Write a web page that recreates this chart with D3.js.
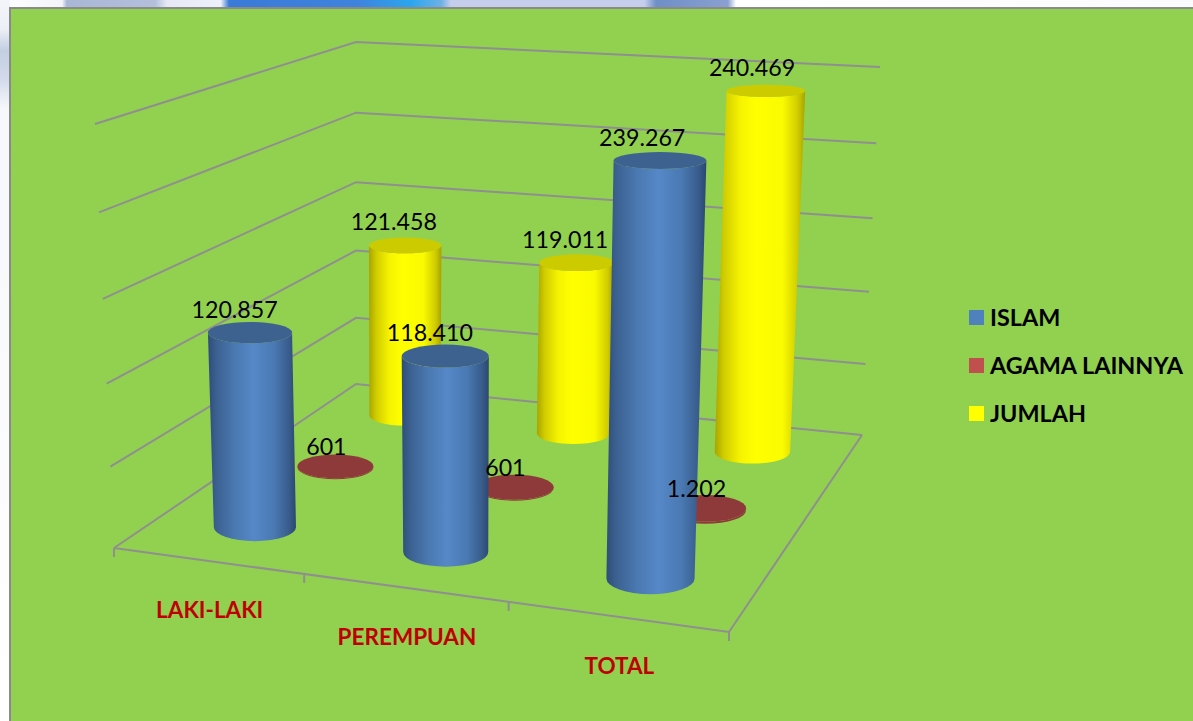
<!DOCTYPE html>
<html><head><meta charset="utf-8">
<style>html,body{margin:0;padding:0;background:#fff;overflow:hidden}svg{display:block}</style>
<script src="https://cdn.jsdelivr.net/npm/d3@7/dist/d3.min.js"></script>
</head><body><svg id="c" width="1193" height="721"></svg>
<script>
const categories = ["LAKI-LAKI", "PEREMPUAN", "TOTAL"];
const seriesNames = ["ISLAM", "AGAMA LAINNYA", "JUMLAH"];
const islam = [120857, 118410, 239267];
const agamaLainnya = [601, 601, 1202];
const jumlah = [121458, 119011, 240469];
const seriesValues = [islam, agamaLainnya, jumlah];
const axisTicks = [0, 50000, 100000, 150000, 200000, 250000];

const svg = d3.select("#c");
const defs = svg.append("defs");
const fmt = d3.formatLocale({decimal: ",", thousands: ".", grouping: [3], currency: ["", ""]}).format(",");

// Backdrop strip behind the chart panel
const topG = defs.append("linearGradient").attr("id", "topStrip");
[[0,"#ffffff"],[.052,"#f2f4fa"],[.056,"#a9b6d5"],[.13,"#b3bfdb"],[.14,"#e6e9f5"],[.185,"#eef0fa"],[.192,"#3a7ad8"],[.30,"#3f84dc"],
 [.345,"#2ba6ee"],[.37,"#6fb0e6"],[.378,"#c6ceed"],[.54,"#c6ceed"],[.55,"#6f8fc8"],[.61,"#8aa0d0"],[.617,"#ffffff"],[1,"#fbfbfd"]]
  .forEach(s => topG.append("stop").attr("offset", s[0]).attr("stop-color", s[1]));
const leftG = defs.append("linearGradient").attr("id", "leftStrip").attr("x2", 0).attr("y2", 1);
[[0,"#f4f5fa"],[.04,"#eceff6"],[.07,"#c3cfe2"],[.11,"#d3daea"],[.15,"#f6f7fb"],[1,"#ffffff"]]
  .forEach(s => leftG.append("stop").attr("offset", s[0]).attr("stop-color", s[1]));
svg.append("rect").attr("width", 1193).attr("height", 8).attr("fill", "url(#topStrip)");
svg.append("rect").attr("width", 10).attr("height", 721).attr("fill", "url(#leftStrip)");
svg.append("rect").attr("x", 10).attr("y", 8).attr("width", 1190).attr("height", 720)
   .attr("fill", "#92d050").attr("stroke", "#8a8a8a").attr("stroke-width", 2);

// Scales: category along the floor's width, series along its depth, value up the walls
const uBand = d3.scaleBand().domain(categories).range([0.004, 1.004]);
const vBand = d3.scaleBand().domain(seriesNames).range([0, 1]);
const tScale = d3.scaleLinear().domain([0, 250000]).range([0, 1]);

// Perspective projection of the chart box onto the page
function project(u, v, t) {
  const w = -0.10463*u + 0.24291*v + 1 - 0.05*t;
  const p = -23.75 + 5.95*v - 5.7*u*v;
  const q = -430.2 + 7*u + 3*v - 2*u*v;
  return [(538.73*u + 328.48*v + 114 + p*t) / w,
          (17.87*u - 70.72*v + 548 + q*t) / w, w];
}
const catU = c => uBand(c) + uBand.bandwidth()/2;
const serV = s => vBand(s) + vBand.bandwidth()/2;
const flatten = d3.scaleLinear().domain([0, 721]).range([0.115, 0.418]);
const line = d3.line();

// Walls' gridlines and floor
const grid = svg.append("g").attr("fill", "none").attr("stroke", "#8f8f8f").attr("stroke-width", 2);
axisTicks.forEach(tick => {
  const t = tScale(tick);
  grid.append("path").attr("d", line([project(0,0,t), project(0,1,t), project(1,1,t)]));
});
grid.append("path").attr("d", line([project(0,0,0), project(1,0,0), project(1,1,0)]));
d3.range(categories.length + 1).forEach(i => {
  const u = i / categories.length;
  const p = project(u, 0, 0);
  grid.append("path").attr("d", line([p, [p[0], p[1] + 9]]));
});

// Cylinder styles
const sideStops = {
  "ISLAM": [[0,"#2f4d78"],[.1,"#3c6191"],[.3,"#4a78b0"],[.52,"#5688c8"],[.75,"#4a79b3"],[.92,"#385c8c"],[1,"#2c4770"]],
  "AGAMA LAINNYA": [[0,"#8f3a3a"],[1,"#8f3a3a"]],
  "JUMLAH": [[0,"#a8a400"],[.1,"#d0cc00"],[.28,"#f6f300"],[.45,"#ffff00"],[.75,"#fbfb00"],[.92,"#cfcb00"],[1,"#a6a200"]]
};
const capFill = {"ISLAM": "#3d628f", "AGAMA LAINNYA": "#8f3a3a", "JUMLAH": "#cccb00"};
const legendFill = {"ISLAM": "#4f81bd", "AGAMA LAINNYA": "#c0504d", "JUMLAH": "#ffff00"};
const labelShift = {"ISLAM": [-13, -15], "AGAMA LAINNYA": [-9, -11], "JUMLAH": [-9, -15]};
const RADIUS = 42;

const labels = [];
// Paint from the back row to the front row
[2, 1, 0].forEach(j => {
  const name = seriesNames[j];
  const g = svg.append("g").attr("class", "series");
  categories.forEach((cat, i) => {
    const val = seriesValues[j][i];
    const u = catU(cat), v = serV(name);
    const b = project(u, v, 0), a = project(u, v, tScale(val));
    const rb = RADIUS / b[2], ra = RADIUS / a[2];
    const kb = rb * flatten(b[1]), ka = ra * flatten(a[1]);
    const id = "grad" + j + i;
    const gr = defs.append("linearGradient").attr("id", id).attr("gradientUnits", "userSpaceOnUse")
      .attr("x1", Math.min(a[0]-ra, b[0]-rb)).attr("x2", Math.max(a[0]+ra, b[0]+rb)).attr("y1", 0).attr("y2", 0);
    sideStops[name].forEach(s => gr.append("stop").attr("offset", s[0]).attr("stop-color", s[1]));
    g.append("path").attr("fill", `url(#${id})`).attr("d",
      `M${a[0]-ra},${a[1]} L${b[0]-rb},${b[1]} A${rb},${kb} 0 0 0 ${b[0]+rb},${b[1]} L${a[0]+ra},${a[1]} A${ra},${ka} 0 0 1 ${a[0]-ra},${a[1]}Z`);
    g.append("ellipse").attr("cx", a[0]).attr("cy", a[1]).attr("rx", ra).attr("ry", ka).attr("fill", capFill[name]);
    labels.push({x: a[0] + labelShift[name][0] - 5*tScale(val), y: a[1] + labelShift[name][1], text: fmt(val)});
  });
});

// Data labels above all marks
svg.append("g").selectAll("text").data(labels).join("text")
  .attr("x", d => d.x).attr("y", d => d.y).attr("text-anchor", "middle")
  .attr("font-family", "Lato").attr("font-size", 23.2).attr("fill", "#000").text(d => d.text);

// Category labels below the front edge
svg.append("g").selectAll("text").data(categories).join("text")
  .attr("x", c => project(catU(c), 0, 0)[0])
  .attr("y", c => project(catU(c), 0, 0)[1] + 57)
  .attr("text-anchor", "middle").attr("font-family", "Lato").attr("font-weight", 700)
  .attr("font-size", 22.5).attr("fill", "#c00000").text(c => c);

// Legend
const ly = d3.scalePoint().domain(seriesNames).range([318, 414]);
const lg = svg.append("g");
lg.selectAll("rect").data(seriesNames).join("rect")
  .attr("x", 969).attr("y", s => ly(s) - 8).attr("width", 15).attr("height", 15).attr("fill", s => legendFill[s]);
lg.selectAll("text").data(seriesNames).join("text")
  .attr("x", 990).attr("y", s => ly(s) + 8).attr("font-family", "Lato").attr("font-weight", 700)
  .attr("font-size", 23.4).attr("fill", "#000").text(s => s);
</script></body></html>
